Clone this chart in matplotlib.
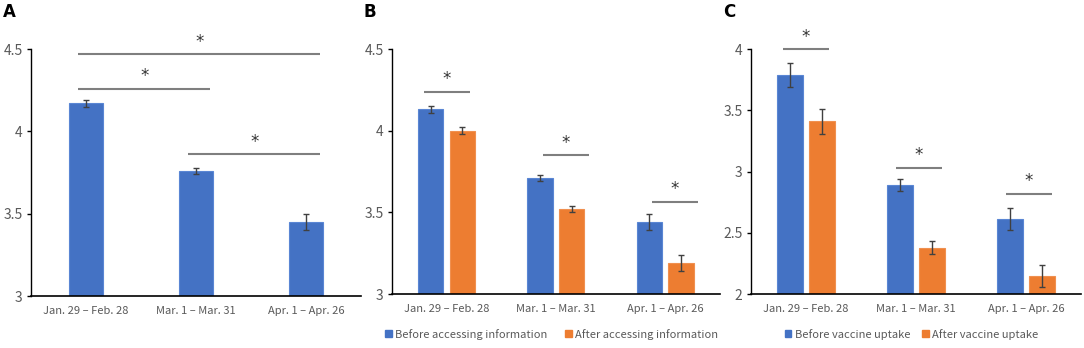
import numpy as np
import matplotlib
matplotlib.use('Agg')
import matplotlib.pyplot as plt
from matplotlib.patches import Patch

plt.rcParams['font.family'] = ['Noto Sans CJK SC', 'DejaVu Sans']

# data
categories = ['Jan. 29 – Feb. 28', 'Mar. 1 – Mar. 31', 'Apr. 1 – Apr. 26']

a_mean = [4.17, 3.76, 3.45]
a_err = [0.02, 0.02, 0.05]
a_pairs = [(0, 2), (0, 1), (1, 2)]
a_heights = [4.47, 4.26, 3.86]

b_before = [4.13, 3.71, 3.44]
b_before_err = [0.02, 0.02, 0.05]
b_after = [4.00, 3.52, 3.19]
b_after_err = [0.02, 0.02, 0.05]
b_heights = [4.24, 3.85, 3.565]
b_labels = ['Before accessing information', 'After accessing information']

c_before = [3.79, 2.89, 2.61]
c_before_err = [0.10, 0.05, 0.09]
c_after = [3.41, 2.38, 2.15]
c_after_err = [0.10, 0.05, 0.09]
c_heights = [4.00, 3.03, 2.82]
c_labels = ['Before vaccine uptake', 'After vaccine uptake']

BLUE = '#4472C4'
ORANGE = '#ED7D31'
GRAY = '#595959'
LINE = '#7f7f7f'
ERR = '#404040'

fig = plt.figure(figsize=(10.84, 3.48), dpi=100)


def style(ax, ylim, ticks):
    ax.set_xlim(-0.5, 2.5)
    ax.set_ylim(*ylim)
    ax.set_yticks(ticks)
    ax.set_yticklabels(['%g' % t for t in ticks], fontsize=10, color=GRAY)
    ax.set_xticks(range(3))
    ax.set_xticklabels(categories, fontsize=8, color=GRAY)
    ax.tick_params(axis='x', length=0, pad=7)
    ax.tick_params(axis='y', length=3, width=1, pad=3, colors='black', labelcolor=GRAY)
    for s in ['top', 'right']:
        ax.spines[s].set_visible(False)
    ax.spines['left'].set_linewidth(1)
    ax.spines['bottom'].set_linewidth(1.2)


def bracket(ax, x0, x1, h):
    ax.plot([x0, x1], [h, h], color=LINE, lw=1.5, clip_on=False, solid_capstyle='butt')
    ax.annotate('*', xy=((x0 + x1) / 2, h), xytext=(0, 9), textcoords='offset points',
                ha='center', va='center', fontsize=12, color='#333333', annotation_clip=False,
                family='DejaVu Sans')


ekw = dict(ecolor=ERR, capsize=2.5, elinewidth=1, capthick=1)
x = np.arange(3)

# panel A
axA = fig.add_axes([0.0286, 0.149, 0.3044, 0.71])
axA.bar(x, a_mean, 0.31, yerr=a_err, color=BLUE, edgecolor='#5a86d4', lw=0.8, error_kw=ekw)
style(axA, (3, 4.5), [3, 3.5, 4, 4.5])
for (i, j), h in zip(a_pairs, a_heights):
    bracket(axA, i - 0.07, j + 0.13, h)

# panel B
w = 0.23
off = 0.145
axB = fig.add_axes([0.3616, 0.155, 0.3024, 0.704])
axB.bar(x - off, b_before, w, yerr=b_before_err, color=BLUE, edgecolor='#5a86d4', lw=0.8, error_kw=ekw)
axB.bar(x + off, b_after, w, yerr=b_after_err, color=ORANGE, edgecolor='#f09050', lw=0.8, error_kw=ekw)
style(axB, (3, 4.5), [3, 3.5, 4, 4.5])
for i, h in enumerate(b_heights):
    sh = 0.0 if i == 0 else 0.09
    bracket(axB, i + sh - 0.21, i + sh + 0.21, h)

# panel C
axC = fig.add_axes([0.6928, 0.155, 0.3044, 0.704])
axC.bar(x - off, c_before, w, yerr=c_before_err, color=BLUE, edgecolor='#5a86d4', lw=0.8, error_kw=ekw)
axC.bar(x + off, c_after, w, yerr=c_after_err, color=ORANGE, edgecolor='#f09050', lw=0.8, error_kw=ekw)
style(axC, (2, 4), [2, 2.5, 3, 3.5, 4])
for i, h in enumerate(c_heights):
    sh = 0.0 if i == 0 else 0.025
    bracket(axC, i + sh - 0.21, i + sh + 0.21, h)

# legends
for ax, labels, xc, sp in [(axB, b_labels, 0.509, 1.6), (axC, c_labels, 0.841, 1.1)]:
    handles = [Patch(color=BLUE), Patch(color=ORANGE)]
    fig.legend(handles, labels, loc='center', bbox_to_anchor=(xc, 0.04), ncol=2,
               frameon=False, fontsize=8, handlelength=0.6, handleheight=0.6,
               handletextpad=0.3, columnspacing=sp, labelcolor=GRAY,
               borderpad=0, borderaxespad=0)

# panel letters
for xp, letter in [(0.003, 'A'), (0.335, 'B'), (0.667, 'C')]:
    fig.text(xp, 0.965, letter, fontsize=12, fontweight='bold', va='center', ha='left',
             family='DejaVu Sans')

plt.savefig('out.png', dpi=100)
plt.close()
